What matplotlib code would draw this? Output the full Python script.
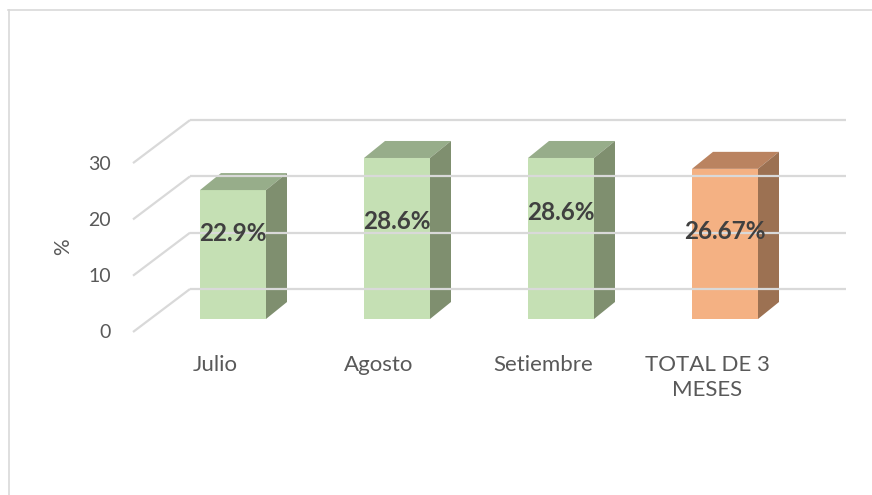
import matplotlib.pyplot as plt
from matplotlib.patches import Polygon

plt.rcParams['font.family'] = ['Lato', 'DejaVu Sans']

categories = ["Julio", "Agosto", "Setiembre", "TOTAL DE 3\nMESES"]
values = [22.9, 28.6, 28.6, 26.67]
value_labels = ["22.9%", "28.6%", "28.6%", "26.67%"]
ticks = [0, 10, 20, 30]

# colours: (front, top, side)
green = ("#C5E0B4", "#97AD8A", "#7F8F6F")
orange = ("#F4B183", "#BA8360", "#9C7152")
bar_colors = [green, green, green, orange]

# layout, in pixels
W, H = 872, 495
scale = 5.63            # px per percent
floor_front_y = 332
floor_back_y = 289
wall_left_x = 133
wall_back_x = 190
wall_right_x = 846
bar_base_y = 319
bar_x0 = 200
bar_step = 164
bar_w = 66
ddx, ddy = 21, -17      # depth offset of each bar
label_dy = [-21, -17, -26, -12]  # label shift from bar middle
cat_dx = -18            # category label shift from bar centre

fig = plt.figure(figsize=(W / 100, H / 100), dpi=100)
ax = fig.add_axes([0, 0, 1, 1])
ax.set_xlim(0, W)
ax.set_ylim(H, 0)
ax.axis('off')

# outer frame (top and left edges only)
ax.plot([8, W], [10, 10], color="#D9D9D9", lw=1.2)
ax.plot([8.5, 8.5], [10, H], color="#D9D9D9", lw=1.2)

grid_c = "#D9D9D9"
for t in ticks:
    yb = floor_back_y - t * scale
    yf = floor_front_y - t * scale
    ax.plot([wall_left_x, wall_back_x], [yf, yb], color=grid_c, lw=1.6,
            solid_capstyle='butt')
    ax.plot([wall_back_x, wall_right_x], [yb, yb], color=grid_c, lw=1.6,
            solid_capstyle='butt')
    ax.text(111, yf + 1, str(t), ha='right', va='center', fontsize=14,
            color="#595959")

ax.text(63, 247, "%", rotation=90, ha='center', va='center', fontsize=15,
        color="#595959")

for i, (v, cols) in enumerate(zip(values, bar_colors)):
    x0 = bar_x0 + i * bar_step
    x1 = x0 + bar_w
    yb = bar_base_y
    yt = bar_base_y - v * scale
    front, top, side = cols
    ax.add_patch(Polygon([(x0, yb), (x1, yb), (x1, yt), (x0, yt)],
                         closed=True, fc=front, ec='none'))
    ax.add_patch(Polygon([(x0, yt), (x1, yt), (x1 + ddx, yt + ddy),
                          (x0 + ddx, yt + ddy)], closed=True, fc=top, ec='none'))
    ax.add_patch(Polygon([(x1, yb), (x1 + ddx, yb + ddy), (x1 + ddx, yt + ddy),
                          (x1, yt)], closed=True, fc=side, ec='none'))
    ax.text((x0 + x1) / 2, (yb + yt) / 2 + label_dy[i], value_labels[i],
            ha='center', va='center', fontsize=17.5, fontweight='bold',
            color="#404040")
    ax.text((x0 + x1) / 2 + cat_dx, 355, categories[i], ha='center', va='top',
            fontsize=16, color="#595959", linespacing=1.3)

fig.savefig("out.png", dpi=100)
